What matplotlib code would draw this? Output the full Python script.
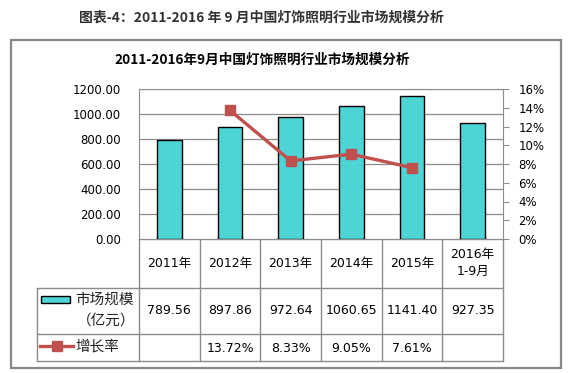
import matplotlib
matplotlib.use('Agg')
import matplotlib.pyplot as plt
from matplotlib.patches import Rectangle

plt.rcParams['font.family'] = ['DejaVu Sans', 'Noto Sans CJK SC']
CJK = ['Noto Sans CJK SC', 'DejaVu Sans']

# data
years = ['2011年', '2012年', '2013年', '2014年', '2015年', '2016年\n1-9月']
market = [789.56, 897.86, 972.64, 1060.65, 1141.40, 927.35]
growth_idx = [1, 2, 3, 4]
growth = [13.72, 8.33, 9.05, 7.61]
market_labels = ['789.56', '897.86', '972.64', '1060.65', '1141.40', '927.35']
growth_labels = ['', '13.72%', '8.33%', '9.05%', '7.61%', '']

W, H = 570, 373
bar_col = '#4dd5d5'
line_col = '#c0504d'
grid_col = '#8c8c8c'

fig = plt.figure(figsize=(W / 100, H / 100), dpi=100)

# background axes in pixel coordinates for frame, titles and table
bg = fig.add_axes([0, 0, 1, 1])
bg.set_xlim(0, W)
bg.set_ylim(H, 0)
bg.axis('off')

bg.text(261, 18, '图表-4：2011-2016 年 9 月中国灯饰照明行业市场规模分析',
        ha='center', va='center', fontsize=10, fontweight='bold',
        color='#333333', family=CJK)
bg.add_patch(Rectangle((11, 40), 550, 328, fill=False, ec='#888888', lw=1.6))
bg.text(262, 60, '2011-2016年9月中国灯饰照明行业市场规模分析',
        ha='center', va='center', fontsize=9.8, fontweight='bold',
        color='black', family=CJK)

# main plot
L, T, R, B = 139, 89, 503, 239
ax = fig.add_axes([L / W, 1 - B / H, (R - L) / W, (B - T) / H])
x = list(range(len(years)))
ax.bar(x, market, width=0.41, color=bar_col, edgecolor='black', linewidth=1, zorder=3)
ax.set_xlim(-0.5, 5.5)
ax.set_ylim(0, 1200)
ax.set_yticks(range(0, 1201, 200))
ax.set_yticklabels(['%.2f' % v for v in range(0, 1201, 200)])
ax.tick_params(axis='y', length=0, pad=13, labelsize=8.5)
ax.set_xticks([])
ax.grid(axis='y', color=grid_col, lw=0.9, zorder=0)
for s in ['top', 'left']:
    ax.spines[s].set_color(grid_col)
ax.spines['bottom'].set_visible(False)
ax.spines['right'].set_visible(False)

ax2 = ax.twinx()
ax2.plot(growth_idx, [g / 100 for g in growth], color=line_col, lw=2.4,
         marker='s', markersize=7.5, zorder=4)
ax2.set_ylim(0, 0.16)
ax2.set_yticks([i / 100 for i in range(0, 17, 2)])
ax2.set_yticklabels(['%d%%' % i for i in range(0, 17, 2)])
ax2.tick_params(axis='y', length=4, color=grid_col, pad=7, labelsize=8.5)
for s in ['top', 'left', 'bottom']:
    ax2.spines[s].set_visible(False)
ax2.spines['right'].set_color(grid_col)

# table
cw = (R - L) / 6
rows = [239, 288, 334, 361]
tc = '#8c8c8c'
for y in rows[1:]:
    bg.plot([37, R], [y, y], color=tc, lw=1)
bg.plot([L, R], [rows[0], rows[0]], color=tc, lw=1)
bg.plot([37, 37], [rows[1], rows[3]], color=tc, lw=1)
for i in range(7):
    xx = L + i * cw
    bg.plot([xx, xx], [rows[0], rows[3]], color=tc, lw=1)

for i in range(6):
    cx = L + (i + 0.5) * cw
    bg.text(cx, 263, years[i], ha='center', va='center', fontsize=9, linespacing=1.35)
    bg.text(cx, 311, market_labels[i], ha='center', va='center', fontsize=9)
    bg.text(cx, 348, growth_labels[i], ha='center', va='center', fontsize=9)

# legend cells
bg.add_patch(Rectangle((41, 296), 29, 7, fc=bar_col, ec='black', lw=1))
bg.text(75, 300, '市场规模', ha='left', va='center', fontsize=10.5,
        color='#222222', family=CJK)
bg.text(106, 321, '（亿元）', ha='center', va='center', fontsize=10.5,
        color='#222222', family=CJK)
bg.plot([40, 73], [346, 346], color=line_col, lw=2.4)
bg.plot([56.5], [346], color=line_col, marker='s', markersize=7.5)
bg.text(75, 346, '增长率', ha='left', va='center', fontsize=10.5,
        color='#222222', family=CJK)

fig.savefig('out.png', dpi=100)
